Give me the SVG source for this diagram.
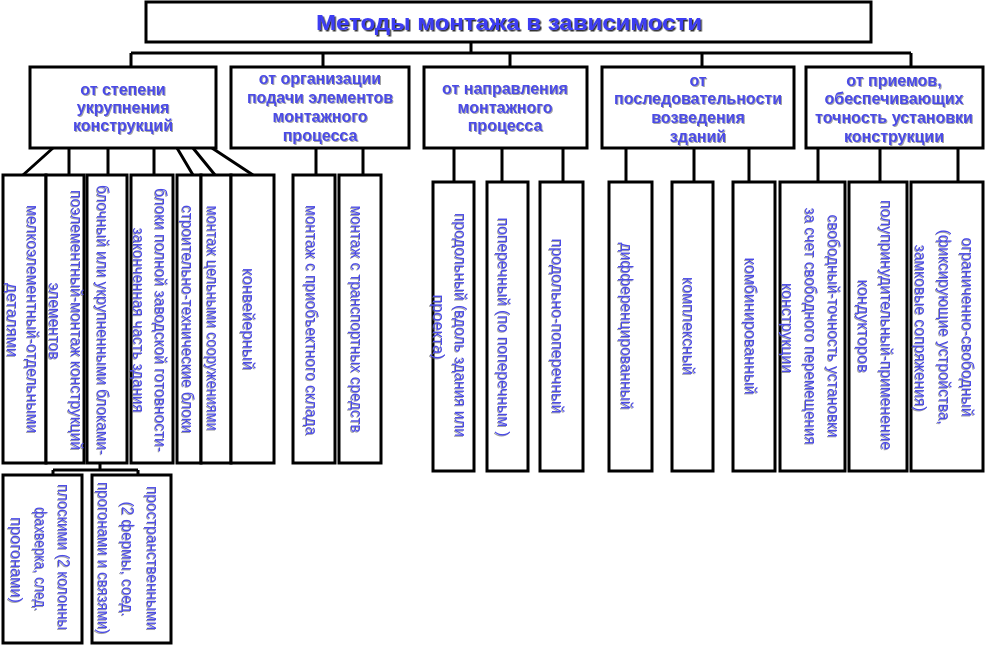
<svg xmlns="http://www.w3.org/2000/svg" width="989" height="645" viewBox="0 0 989 645">
<defs>
<filter id="sh" x="-10%" y="-30%" width="120%" height="160%">
<feDropShadow dx="1" dy="1" stdDeviation="0.6" flood-color="#555" flood-opacity="0.55"/>
</filter>
<filter id="shT" x="-5%" y="-30%" width="110%" height="160%">
<feDropShadow dx="1.5" dy="1.5" stdDeviation="0.7" flood-color="#111" flood-opacity="0.85"/>
</filter>
<style>
.box{fill:#fff;stroke:#000;stroke-width:3}
.con{stroke:#000;stroke-width:3;fill:none}
.t{font-family:"Liberation Sans",Arial,sans-serif;fill:#4b4be6;filter:url(#sh)}
.h{font-size:16px;font-weight:bold;text-anchor:middle}
.v{font-size:17px;text-anchor:middle}
.s{font-size:16px}
.title{font-family:"Liberation Sans",Arial,sans-serif;font-size:22px;font-weight:bold;fill:#3c3cf2;text-anchor:middle;filter:url(#shT)}
</style>
</defs>
<rect width="989" height="645" fill="#fff"/>

<g id="connectors">
<path class="con" d="M471,42V53M131,53H911M131,53V67M323,53V67M510,53V67M702,53V67M911,53V67"/>
<path class="con" d="M53,148L23,175M69,148V175M108,148V175M154,148V175M177,148L193,175M193,148L215,175M212,148L253,175"/>
<path class="con" d="M316,148V175M363,148V175"/>
<path class="con" d="M454,148V182M502,148V182M563,148V182"/>
<path class="con" d="M626,148V182M694,148V182M749,148V182"/>
<path class="con" d="M818,148V182M880,148V182M958,148V182"/>
<path class="con" d="M100,463V470M53,470H138M53,470V475M138,470V475"/>
</g>

<g id="title">
<rect class="box" x="146" y="2" width="725" height="40"/>
<text class="title" x="509" y="30" textLength="386" lengthAdjust="spacingAndGlyphs">Методы монтажа в зависимости</text>
</g>

<g id="n1">
<rect class="box" x="30" y="67" width="186" height="81"/>
<text class="t h" x="123" y="95">от степени</text>
<text class="t h" x="123" y="113">укрупнения</text>
<text class="t h" x="123" y="131">конструкций</text>
</g>
<g id="n2">
<rect class="box" x="231" y="67" width="178" height="81"/>
<text class="t h" x="320" y="84">от организации</text>
<text class="t h" x="320" y="103">подачи элементов</text>
<text class="t h" x="320" y="122">монтажного</text>
<text class="t h" x="320" y="141">процесса</text>
</g>
<g id="n3">
<rect class="box" x="424" y="67" width="163" height="81"/>
<text class="t h" x="505" y="94">от направления</text>
<text class="t h" x="505" y="113">монтажного</text>
<text class="t h" x="505" y="131">процесса</text>
</g>
<g id="n4">
<rect class="box" x="602" y="67" width="192" height="81"/>
<text class="t h" x="698" y="86">от</text>
<text class="t h" x="698" y="104">последовательности</text>
<text class="t h" x="698" y="123">возведения</text>
<text class="t h" x="698" y="142">зданий</text>
</g>
<g id="n5">
<rect class="box" x="806" y="67" width="177" height="81"/>
<text class="t h" x="894" y="86">от приемов,</text>
<text class="t h" x="894" y="104">обеспечивающих</text>
<text class="t h" x="894" y="123">точность установки</text>
<text class="t h" x="894" y="142">конструкции</text>
</g>

<g id="n1-1">
<rect class="box" x="3" y="175" width="43" height="288"/>
<text class="t v" transform="translate(27,319) rotate(90)" textLength="228" lengthAdjust="spacingAndGlyphs">мелкоэлементный-отдельными</text>
<text class="t v" transform="translate(7,320) rotate(90)" textLength="74" lengthAdjust="spacingAndGlyphs">деталями</text>
</g>
<g id="n1-2">
<rect class="box" x="46" y="175" width="38" height="288"/>
<text class="t v" transform="translate(71,320) rotate(90)" textLength="260" lengthAdjust="spacingAndGlyphs">поэлементный-монтаж конструкций</text>
<text class="t v" transform="translate(49,321) rotate(90)" textLength="77" lengthAdjust="spacingAndGlyphs">элементов</text>
</g>
<g id="n1-3">
<rect class="box" x="87" y="175" width="40" height="288"/>
<text class="t v" transform="translate(97,320) rotate(90)" textLength="270" lengthAdjust="spacingAndGlyphs">блочный или укрупненными блоками-</text>
</g>
<g id="n1-4">
<rect class="box" x="131" y="175" width="42" height="288"/>
<text class="t v" transform="translate(155,320) rotate(90)" textLength="264" lengthAdjust="spacingAndGlyphs">блоки полной заводской готовности-</text>
<text class="t v" transform="translate(133,320) rotate(90)" textLength="185" lengthAdjust="spacingAndGlyphs">законченная часть здания</text>
</g>
<g id="n1-5">
<rect class="box" x="177" y="175" width="24" height="288"/>
<text class="t v" transform="translate(182,319) rotate(90)" textLength="228" lengthAdjust="spacingAndGlyphs">строительно-технические блоки</text>
</g>
<g id="n1-6">
<rect class="box" x="201" y="175" width="30" height="288"/>
<text class="t v" transform="translate(207,318) rotate(90)" textLength="225" lengthAdjust="spacingAndGlyphs">монтаж цельными сооружениями</text>
</g>
<g id="n1-7">
<rect class="box" x="231" y="175" width="43" height="288"/>
<text class="t v" transform="translate(243,319) rotate(90)" textLength="102" lengthAdjust="spacingAndGlyphs">конвейерный</text>
</g>

<g id="n2-1">
<rect class="box" x="293" y="175" width="42" height="288"/>
<text class="t v" transform="translate(306,320) rotate(90)" textLength="230" lengthAdjust="spacingAndGlyphs">монтаж с приобъектного склада</text>
</g>
<g id="n2-2">
<rect class="box" x="339" y="175" width="42" height="288"/>
<text class="t v" transform="translate(351,319) rotate(90)" textLength="227" lengthAdjust="spacingAndGlyphs">монтаж с транспортных средств</text>
</g>

<g id="n3-1">
<rect class="box" x="433" y="182" width="41" height="289"/>
<text class="t v" transform="translate(455,325) rotate(90)" textLength="224" lengthAdjust="spacingAndGlyphs">продольный (вдоль здания или</text>
<text class="t v" transform="translate(433,327) rotate(90)" textLength="65" lengthAdjust="spacingAndGlyphs">проекта)</text>
</g>
<g id="n3-2">
<rect class="box" x="487" y="182" width="41" height="289"/>
<text class="t v" transform="translate(498,327) rotate(90)" textLength="219" lengthAdjust="spacingAndGlyphs">поперечный (по поперечным )</text>
</g>
<g id="n3-3">
<rect class="box" x="540" y="182" width="43" height="289"/>
<text class="t v" transform="translate(552,326) rotate(90)" textLength="175" lengthAdjust="spacingAndGlyphs">продольно-поперечный</text>
</g>

<g id="n4-1">
<rect class="box" x="609" y="182" width="43" height="289"/>
<text class="t v" transform="translate(621,326) rotate(90)" textLength="167" lengthAdjust="spacingAndGlyphs">дифференцированный</text>
</g>
<g id="n4-2">
<rect class="box" x="672" y="182" width="41" height="289"/>
<text class="t v" transform="translate(683,326) rotate(90)" textLength="98" lengthAdjust="spacingAndGlyphs">комплексный</text>
</g>
<g id="n4-3">
<rect class="box" x="733" y="182" width="42" height="289"/>
<text class="t v" transform="translate(745,326) rotate(90)" textLength="137" lengthAdjust="spacingAndGlyphs">комбинированный</text>
</g>

<g id="n5-1">
<rect class="box" x="780" y="182" width="65" height="289"/>
<text class="t v" transform="translate(828,326) rotate(90)" textLength="223" lengthAdjust="spacingAndGlyphs">свободный-точность установки</text>
<text class="t v" transform="translate(805,326) rotate(90)" textLength="237" lengthAdjust="spacingAndGlyphs">за счет свободного перемещения</text>
<text class="t v" transform="translate(782,328) rotate(90)" textLength="90" lengthAdjust="spacingAndGlyphs">конструкции</text>
</g>
<g id="n5-2">
<rect class="box" x="849" y="182" width="58" height="289"/>
<text class="t v" transform="translate(881,325) rotate(90)" textLength="250" lengthAdjust="spacingAndGlyphs">полупринудительный-применение</text>
<text class="t v" transform="translate(858,326) rotate(90)" textLength="93" lengthAdjust="spacingAndGlyphs">кондукторов</text>
</g>
<g id="n5-3">
<rect class="box" x="911" y="182" width="72" height="289"/>
<text class="t v" transform="translate(962,327) rotate(90)" textLength="179" lengthAdjust="spacingAndGlyphs">ограниченно-свободный</text>
<text class="t v" transform="translate(939,327) rotate(90)" textLength="195" lengthAdjust="spacingAndGlyphs">(фиксирующие устройства,</text>
<text class="t v" transform="translate(915,328) rotate(90)" textLength="167" lengthAdjust="spacingAndGlyphs">замковые сопряжения)</text>
</g>

<g id="n1-3-1">
<rect class="box" x="3" y="475" width="79" height="168"/>
<text class="t v s" transform="translate(58,557) rotate(90)" textLength="146" lengthAdjust="spacingAndGlyphs">плоскими (2 колонны</text>
<text class="t v s" transform="translate(35,559) rotate(90)" textLength="104" lengthAdjust="spacingAndGlyphs">фахверка, след.</text>
<text class="t v s" transform="translate(11,560) rotate(90)" textLength="86" lengthAdjust="spacingAndGlyphs">прогонами)</text>
</g>
<g id="n1-3-2">
<rect class="box" x="92" y="475" width="79" height="168"/>
<text class="t v s" transform="translate(147,558) rotate(90)" textLength="144" lengthAdjust="spacingAndGlyphs">пространственными</text>
<text class="t v s" transform="translate(122,559) rotate(90)" textLength="115" lengthAdjust="spacingAndGlyphs">(2 фермы, соед.</text>
<text class="t v s" transform="translate(98,558) rotate(90)" textLength="152" lengthAdjust="spacingAndGlyphs">прогонами и связями)</text>
</g>
</svg>
